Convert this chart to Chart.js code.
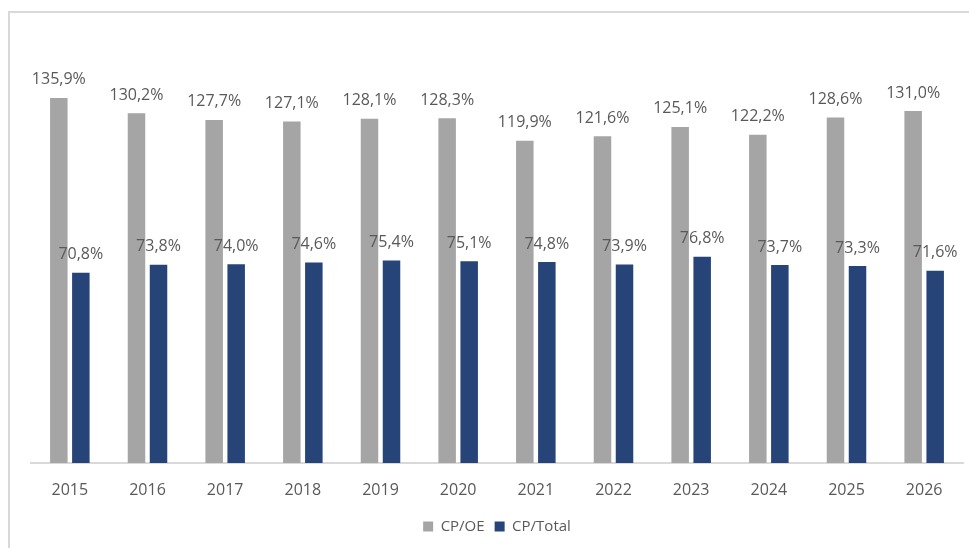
<!DOCTYPE html>
<html>
<head>
<meta charset="utf-8">
<script src="https://cdn.jsdelivr.net/npm/chart.js@4/dist/chart.umd.min.js"></script>
<style>
  html, body { margin: 0; padding: 0; background: #fff; }
  #wrap { position: absolute; left: 0; top: 0; width: 969px; height: 548px; }
  #frameTop { position: absolute; left: 8px; top: 11px; width: 961px; height: 0; border-top: 2px solid #d9d9d9; }
  #frameLeft { position: absolute; left: 8px; top: 11px; width: 0; height: 537px; border-left: 2px solid #d9d9d9; }
  canvas { position: absolute; left: 0; top: 0; }
</style>
</head>
<body>
<div id="wrap">
  <canvas id="c" width="969" height="548"></canvas>
  <div id="frameTop"></div>
  <div id="frameLeft"></div>
</div>
<script>
const years = ['2015','2016','2017','2018','2019','2020','2021','2022','2023','2024','2025','2026'];
const cpOE = [135.9,130.2,127.7,127.1,128.1,128.3,119.9,121.6,125.1,122.2,128.6,131.0];
const cpTotal = [70.8,73.8,74.0,74.6,75.4,75.1,74.8,73.9,76.8,73.7,73.3,71.6];
const seriesNames = ['CP/OE','CP/Total'];

const FONT = '"Open Sans", "Noto Sans", sans-serif';
const TEXT = '#595959';

const labelPlugin = {
  id: 'barLabels',
  afterDatasetsDraw(chart) {
    const ctx = chart.ctx;
    ctx.save();
    ctx.font = '16px ' + FONT;
    ctx.fillStyle = TEXT;
    ctx.textAlign = 'center';
    ctx.textBaseline = 'middle';
    chart.data.datasets.forEach((ds, di) => {
      const meta = chart.getDatasetMeta(di);
      meta.data.forEach((bar, i) => {
        const v = ds.data[i];
        const txt = v.toFixed(1).replace('.', ',') + '%';
        ctx.fillText(txt, bar.x, bar.y - 18);
      });
    });
    ctx.restore();
  }
};

new Chart(document.getElementById('c'), {
  type: 'bar',
  data: {
    labels: years,
    datasets: [
      { label: seriesNames[0], data: cpOE, backgroundColor: '#A5A5A5', categoryPercentage: 0.567, barPercentage: 0.795 },
      { label: seriesNames[1], data: cpTotal, backgroundColor: '#264478', categoryPercentage: 0.567, barPercentage: 0.795 }
    ]
  },
  options: {
    responsive: false,
    animation: false,
    layout: { padding: { left: 31, right: 6, top: 60, bottom: 4 } },
    plugins: {
      legend: {
        position: 'bottom',
        labels: { font: { family: FONT, size: 15 }, color: TEXT, boxWidth: 10, boxHeight: 10, padding: 10 }
      },
      tooltip: { enabled: false }
    },
    scales: {
      x: {
        grid: { display: false },
        border: { display: true, color: '#d9d9d9', width: 2 },
        ticks: { font: { family: FONT, size: 16 }, color: TEXT, padding: 10 },
        afterFit(scale) { scale.height = 46; }
      },
      y: {
        display: false,
        min: 0,
        max: 150
      }
    }
  },
  plugins: [labelPlugin]
});
</script>
</body>
</html>
